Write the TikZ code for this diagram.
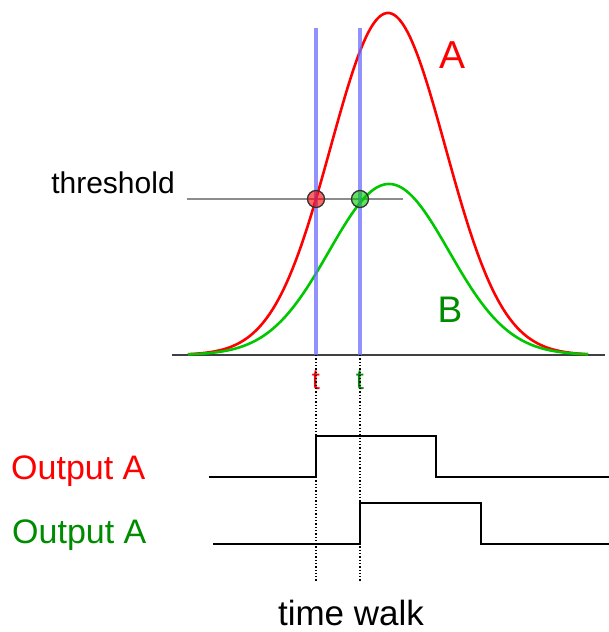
\documentclass[tikz,border=0pt]{standalone}
\usepackage{fontspec}
\setmainfont{Liberation Sans}
\definecolor{cred}{RGB}{255,0,0}
\definecolor{cgreen}{RGB}{0,200,0}
\definecolor{tgreen}{RGB}{0,140,0}
\definecolor{cblue}{RGB}{110,110,255}
\begin{document}
\begin{tikzpicture}[x=1pt,y=-1pt,
  curve/.style={line width=2.6pt},
  bluebar/.style={cblue,line width=4.5pt,opacity=0.75},
  hit/.style={circle,draw=black!80,line width=1.3pt,minimum size=17pt,inner sep=0pt,fill opacity=0.6},
  sig/.style={black,line width=1.6pt},
  dotline/.style={black,dotted,line width=1.3pt},
  lbl/.style={inner sep=0pt,anchor=base}]
\useasboundingbox (0,0) rectangle (609,632);
% axis and threshold
\coordinate (axL) at (172,355);
\coordinate (axR) at (605,355);
\draw[black!75,line width=1.8pt] (axL) -- (axR);
\coordinate (thL) at (187,199);
\coordinate (thR) at (403,199);
\draw[black!45,line width=1.4pt] (thL) -- (thR);
% curves
\draw[curve,cred,domain=188:588,samples=160,smooth] plot (\x,{355-342*exp(-0.5*((\x-388)/57.5)^2)});
\draw[curve,cgreen,domain=188:588,samples=160,smooth] plot (\x,{355-171*exp(-0.5*((\x-389)/60)^2)});
% blue bars
\coordinate (b1t) at (316,28); \coordinate (b1b) at (316,355);
\coordinate (b2t) at (360,28); \coordinate (b2b) at (360,355);
\draw[bluebar] (b1t) -- (b1b);
\draw[bluebar] (b2t) -- (b2b);
% hits
\node[hit,fill=cred] (h1) at (316,199) {};
\node[hit,fill=cgreen] (h2) at (360,199) {};
% labels
\node[lbl,font=\fontsize{39}{39}\selectfont,text=cred] (A) at (453,68) {A};
\node[lbl,font=\fontsize{37}{37}\selectfont,text=tgreen] (B) at (450,322) {B};
\node[lbl,font=\fontsize{30}{30}\selectfont] (thr) at (113,193) {threshold};
\node[lbl,font=\fontsize{29}{29}\selectfont,text=cred] (t1) at (316,389) {t};
\node[lbl,font=\fontsize{29}{29}\selectfont,text=tgreen] (t2) at (360,389) {t};
\node[lbl,font=\fontsize{34}{34}\selectfont,text=cred,anchor=base west] (oA) at (11,479) {Output A};
\node[lbl,font=\fontsize{34}{34}\selectfont,text=tgreen,anchor=base west] (oB) at (12,543) {Output A};
\node[lbl,font=\fontsize{35}{35}\selectfont] (tw) at (351,625) {time walk};
% dotted lines
\coordinate (d1b) at (316,582); \coordinate (d2b) at (360,582);
\draw[dotline] (b1b) -- (d1b);
\draw[dotline] (b2b) -- (d2b);
% signals
\draw[sig] (209,477) -- (316,477) -- (316,436) -- (436,436) -- (436,477) -- (609,477);
\draw[sig] (213,544) -- (360,544) -- (360,503) -- (481,503) -- (481,544) -- (609,544);
\end{tikzpicture}
\end{document}
